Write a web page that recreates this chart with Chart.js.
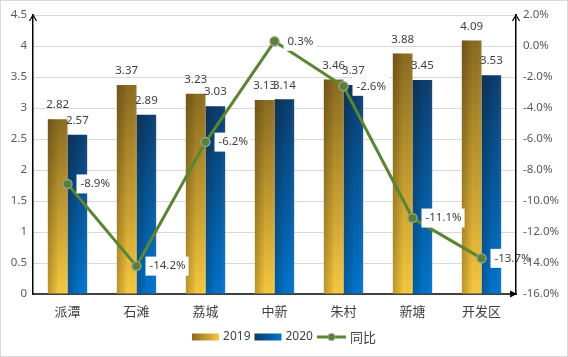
<!DOCTYPE html>
<html><head><meta charset="utf-8">
<script src="https://cdn.jsdelivr.net/npm/chart.js@4.4.1/dist/chart.umd.min.js"></script>
<style>html,body{margin:0;padding:0;background:#fff;}#wrap{width:568px;height:357px;position:relative}canvas{display:block}</style>
</head><body><div id="wrap"><canvas id="c" width="568" height="357"></canvas></div>
<script>
const categories = ['派潭','石滩','荔城','中新','朱村','新塘','开发区'];
const values2019 = [2.82, 3.37, 3.23, 3.13, 3.46, 3.88, 4.09];
const values2020 = [2.57, 2.89, 3.03, 3.14, 3.37, 3.45, 3.53];
const yoyPercent = [-8.9, -14.2, -6.2, 0.3, -2.6, -11.1, -13.7];
const seriesNames = ['2019', '2020', '同比'];

const NUM_FONT = '"Noto Sans", "Liberation Sans", sans-serif';
const CJK_FONT = '"Noto Sans CJK SC", "Noto Sans", sans-serif';
const NUM_SIZE = 11.5;
const GOLD = ['#8a6b20', '#f7c83e'];
const BLUE = ['#0b3c6c', '#0074cc'];
const GREEN = '#5a8532';

function barGrad(colors) {
  return (c) => {
    const chart = c.chart;
    const y = chart.scales && chart.scales.y;
    if (!y || c.raw == null) return colors[1];
    const top = y.getPixelForValue(c.raw), bot = y.getPixelForValue(0);
    if (!isFinite(top) || !isFinite(bot) || top === bot) return colors[1];
    const g = chart.ctx.createLinearGradient(0, top, 0, bot);
    g.addColorStop(0, colors[0]);
    g.addColorStop(1, colors[1]);
    return g;
  };
}

const decoPlugin = {
  id: 'deco',
  afterDatasetDraw(chart, args) {
    if (args.index > 1) return;
    const ctx = chart.ctx;
    ctx.save();
    args.meta.data.forEach(el => {
      const l = el.x - el.width / 2, r = el.x + el.width / 2;
      const g = ctx.createLinearGradient(l, 0, r, 0);
      g.addColorStop(0, 'rgba(40,25,0,0.28)');
      g.addColorStop(0.55, 'rgba(0,0,0,0)');
      g.addColorStop(1, 'rgba(255,255,255,0.06)');
      ctx.fillStyle = g;
      ctx.fillRect(l, el.y, r - l, el.base - el.y);
    });
    ctx.restore();
  },
  afterDatasetsDraw(chart) {
    const ctx = chart.ctx;
    ctx.save();
    // bar value labels
    ctx.font = NUM_SIZE + 'px ' + NUM_FONT;
    ctx.fillStyle = '#404040';
    ctx.textAlign = 'center';
    ctx.textBaseline = 'middle';
    [0, 1].forEach(di => {
      const meta = chart.getDatasetMeta(di);
      const vals = di === 0 ? values2019 : values2020;
      meta.data.forEach((el, i) => {
        ctx.fillText(vals[i].toFixed(2), el.x, el.y - 14);
      });
    });
    // line labels
    const lm = chart.getDatasetMeta(2);
    ctx.textAlign = 'left';
    lm.data.forEach((p, i) => {
      const txt = yoyPercent[i].toFixed(1) + '%';
      const w = ctx.measureText(txt).width;
      const bx = p.x + 9;
      ctx.fillStyle = '#fff';
      ctx.fillRect(bx, p.y - 9.5, w + 7, 19);
      ctx.fillStyle = '#404040';
      ctx.fillText(txt, bx + 4, p.y);
    });
    ctx.restore();
  },
  afterDraw(chart) {
    const ctx = chart.ctx;
    const a = chart.chartArea;
    ctx.save();
    // axis arrows
    ctx.strokeStyle = '#000';
    ctx.fillStyle = '#000';
    ctx.lineWidth = 1.2;
    [a.left, a.right].forEach(x => {
      ctx.beginPath();
      ctx.moveTo(x - 3.5, a.top + 6);
      ctx.lineTo(x, a.top);
      ctx.lineTo(x + 3.5, a.top + 6);
      ctx.stroke();
    });
    ctx.beginPath();
    ctx.moveTo(a.right + 1, a.bottom);
    ctx.lineTo(a.right - 6, a.bottom - 3.5);
    ctx.lineTo(a.right - 6, a.bottom + 3.5);
    ctx.closePath();
    ctx.fill();
    // legend
    const items = [
      {t: seriesNames[0], kind: 'bar', c: GOLD},
      {t: seriesNames[1], kind: 'bar', c: BLUE},
      {t: seriesNames[2], kind: 'line'}
    ];
    ctx.textBaseline = 'middle';
    ctx.textAlign = 'left';
    const ly = 337;
    let total = 0;
    items.forEach(it => {
      ctx.font = (it.kind === 'line' ? '13px ' + CJK_FONT : '12px ' + NUM_FONT);
      it.w = ctx.measureText(it.t).width;
      it.sw = it.kind === 'line' ? 29 : 27;
      total += it.sw + 4 + it.w;
    });
    total += 4 * (items.length - 1);
    let x = 284 - total / 2;
    items.forEach(it => {
      if (it.kind === 'bar') {
        const g = ctx.createLinearGradient(x, 0, x + it.sw, 0);
        g.addColorStop(0, it.c[0]);
        g.addColorStop(1, it.c[1]);
        ctx.fillStyle = g;
        ctx.fillRect(x, ly - 3.5, it.sw, 7);
      } else {
        ctx.strokeStyle = GREEN;
        ctx.lineWidth = 3;
        ctx.beginPath();
        ctx.moveTo(x, ly);
        ctx.lineTo(x + it.sw, ly);
        ctx.stroke();
        ctx.beginPath();
        ctx.arc(x + it.sw / 2, ly, 3.5, 0, Math.PI * 2);
        ctx.fillStyle = '#5b7f35';
        ctx.fill();
        ctx.strokeStyle = '#8fa08a';
        ctx.lineWidth = 1;
        ctx.stroke();
      }
      x += it.sw + 4;
      ctx.fillStyle = '#404040';
      ctx.font = (it.kind === 'line' ? '13px ' + CJK_FONT : '12px ' + NUM_FONT);
      ctx.fillText(it.t, x, ly);
      x += it.w + 4;
    });
    // outer border
    ctx.strokeStyle = '#d9d9d9';
    ctx.lineWidth = 1;
    ctx.strokeRect(0.5, 0.5, 567, 356);
    ctx.restore();
  }
};

new Chart(document.getElementById('c'), {
  data: {
    labels: categories,
    datasets: [
      {type: 'bar', label: seriesNames[0], data: values2019, backgroundColor: barGrad(GOLD), yAxisID: 'y', order: 2,
       categoryPercentage: 0.57, barPercentage: 1, borderWidth: 0},
      {type: 'bar', label: seriesNames[1], data: values2020, backgroundColor: barGrad(BLUE), yAxisID: 'y', order: 2,
       categoryPercentage: 0.57, barPercentage: 1, borderWidth: 0},
      {type: 'line', label: seriesNames[2], data: yoyPercent, yAxisID: 'y1', order: 0,
       borderColor: GREEN, borderWidth: 3, tension: 0, pointRadius: 4.5,
       pointBackgroundColor: '#5b7f35', pointBorderColor: '#8fa08a', pointBorderWidth: 1.5}
    ]
  },
  options: {
    responsive: false,
    animation: false,
    devicePixelRatio: 1,
    layout: {padding: {top: 15, left: 0, right: 0, bottom: 0}},
    plugins: {legend: {display: false}, tooltip: {enabled: false}},
    scales: {
      x: {
        grid: {display: false, drawTicks: false},
        border: {display: true, color: '#404040', width: 2},
        ticks: {color: '#404040', font: {family: CJK_FONT, size: 13}, padding: 9},
        afterFit(s) { s.height = 63; }
      },
      y: {
        position: 'left', min: 0, max: 4.5,
        ticks: {stepSize: 0.5, color: '#595959', font: {family: NUM_FONT, size: NUM_SIZE}, padding: 6,
                callback: v => String(+(+v).toFixed(1))},
        grid: {color: '#d9d9d9', lineWidth: 1, drawTicks: false},
        border: {display: true, color: '#000', width: 1.5},
        afterFit(s) { s.width = 33; }
      },
      y1: {
        position: 'right', min: -16, max: 2,
        ticks: {stepSize: 2, color: '#595959', font: {family: NUM_FONT, size: NUM_SIZE}, padding: 7, z: 1,
                callback: v => (+v).toFixed(1) + '%'},
        grid: {display: false, drawTicks: false},
        border: {display: true, color: '#000', width: 1.5, z: 1},
        afterFit(s) { s.width = 52; }
      }
    }
  },
  plugins: [decoPlugin]
});
</script>
</body></html>
